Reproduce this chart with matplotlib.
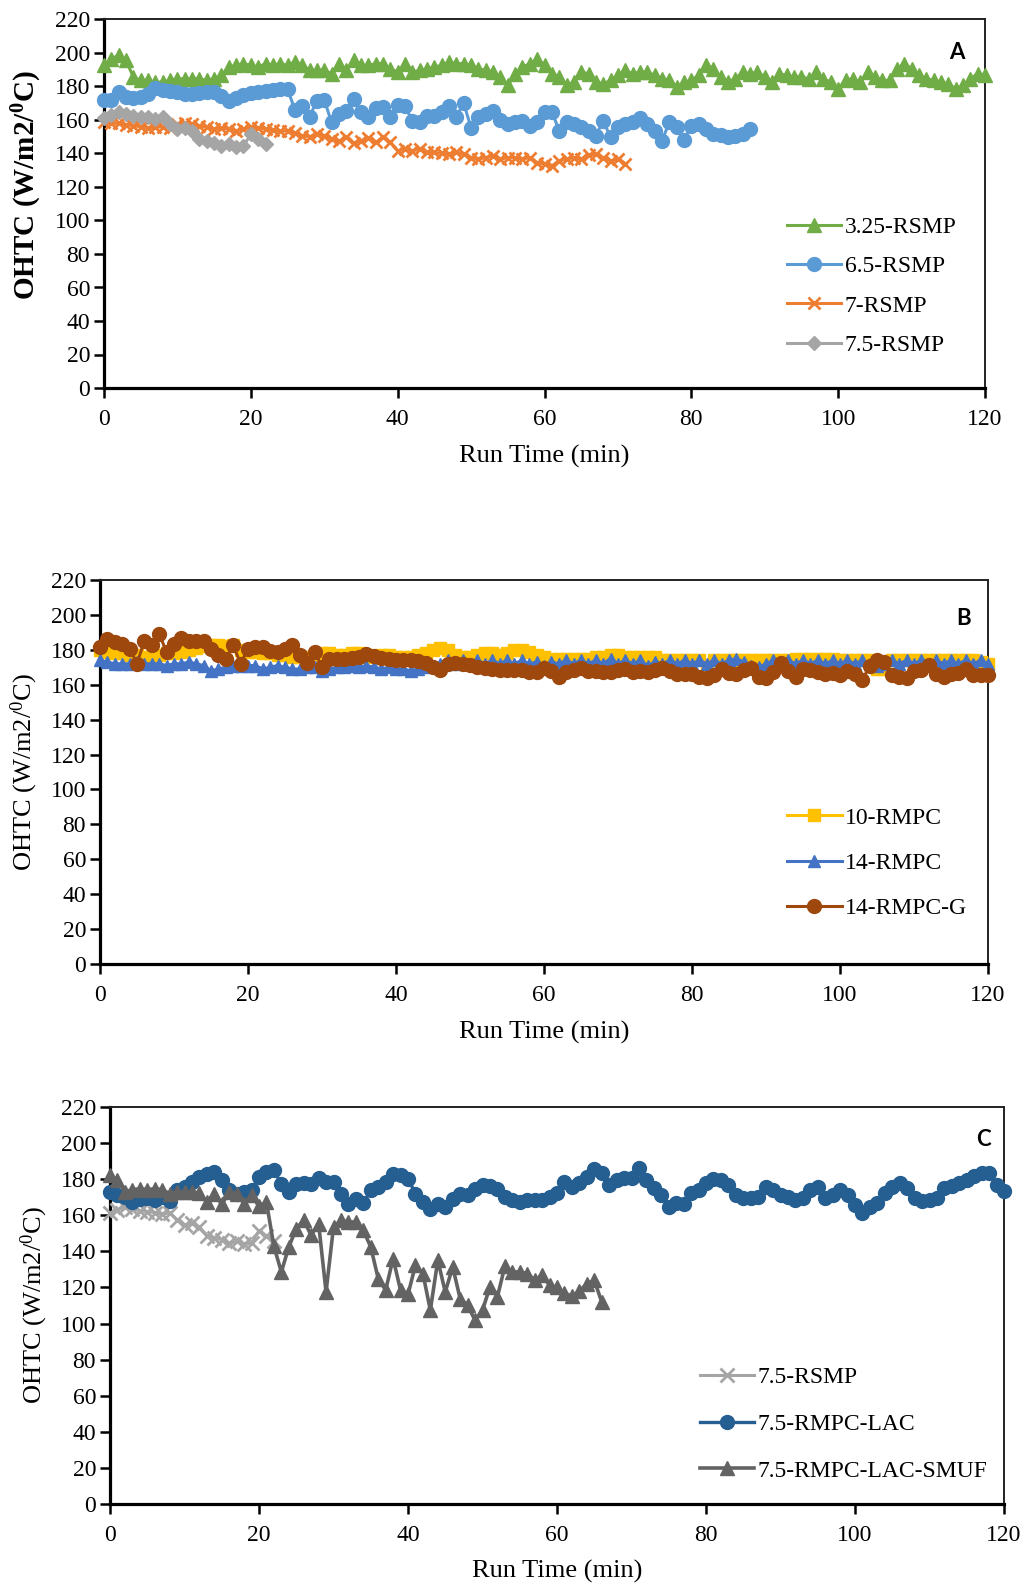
import matplotlib
matplotlib.use('Agg')
import matplotlib.pyplot as plt

plt.rcParams['font.family'] = ['Liberation Serif', 'DejaVu Serif']
plt.rcParams['mathtext.fontset'] = 'custom'
plt.rcParams['mathtext.rm'] = 'Liberation Serif'
plt.rcParams['mathtext.it'] = 'Liberation Serif:italic'
plt.rcParams['mathtext.bf'] = 'Liberation Serif:bold'

# ---------------- data ----------------
x_ticks = [0, 20, 40, 60, 80, 100, 120]
y_ticks = [0, 20, 40, 60, 80, 100, 120, 140, 160, 180, 200, 220]
y_label = 'OHTC (W/m2/$^{\\mathrm{0}}$C)'
y_label_bold = 'OHTC (W/m2/$^{\\mathbf{0}}$C)'
x_label = 'Run Time (min)'

# Panel A
a_labels = ['3.25-RSMP', '6.5-RSMP', '7-RSMP', '7.5-RSMP']
a_325_rsmp = [192.6, 196.6, 198.6, 195.6, 185.6, 183.6, 183.6, 182.6, 182.6, 183.6,
              184.6, 184.6, 184.6, 184.6, 183.6, 184.6, 186.6, 191.6, 192.6, 193.6,
              192.6, 191.6, 193.6, 192.6, 193.6, 192.6, 194.6, 192.6, 189.6, 189.6,
              189.6, 187.6, 193.6, 189.6, 195.6, 192.6, 192.6, 193.6, 193.6, 190.6,
              188.6, 193.6, 188.6, 189.6, 190.6, 191.6, 192.6, 194.6, 193.6, 193.6,
              192.6, 190.6, 189.6, 188.6, 185.6, 180.6, 187.6, 191.6, 193.6, 196.6,
              192.6, 187.6, 185.6, 180.6, 182.6, 188.6, 187.6, 182.6, 181.6, 183.6,
              186.6, 189.6, 187.6, 188.6, 188.6, 186.6, 184.6, 183.6, 179.6, 182.6,
              183.6, 186.6, 192.6, 190.6, 185.6, 182.6, 184.6, 188.6, 187.6, 188.6,
              185.6, 182.6, 187.6, 186.6, 185.6, 185.6, 184.6, 188.6, 184.6, 182.6,
              178.6, 183.6, 184.6, 182.6, 188.6, 185.6, 183.6, 183.6, 190.6, 193.6,
              190.6, 186.6, 184.6, 183.6, 182.6, 181.6, 178.6, 180.6, 184.6, 187.6,
              186.6]
a_65_rsmp = [172.0, 172.0, 177.0, 173.6, 173.2, 174.0, 175.6, 179.2, 178.0, 177.2,
             176.6, 175.6, 175.6, 176.0, 176.6, 176.6, 174.6, 171.6, 173.2, 175.2,
             176.0, 176.6, 177.2, 178.0, 178.6, 178.6, 166.0, 168.6, 162.0, 171.6,
             172.0, 158.6, 163.6, 165.2, 172.6, 164.6, 162.0, 167.2, 167.6, 162.0,
             169.2, 168.6, 159.2, 158.6, 162.6, 162.6, 164.6, 168.6, 162.0, 170.0,
             155.2, 162.0, 163.6, 165.6, 160.0, 157.6, 158.6, 159.6, 156.6, 158.6,
             164.6, 165.0, 153.6, 158.6, 157.6, 155.6, 153.6, 150.6, 159.6, 149.6,
             155.6, 157.6, 158.6, 161.2, 157.6, 153.6, 147.6, 158.6, 155.6, 148.0,
             156.6, 157.6, 154.6, 151.6, 151.2, 150.0, 150.6, 151.6, 154.6]
a_7_rsmp = [158.6, 158.0, 158.0, 157.2, 156.6, 156.0, 155.2, 155.6, 156.0, 155.2,
            157.6, 158.0, 157.6, 156.6, 155.6, 154.6, 155.2, 154.6, 153.6, 154.6,
            155.6, 155.2, 154.6, 154.0, 153.2, 153.6, 152.0, 150.6, 150.0, 151.6,
            150.6, 148.6, 147.2, 149.6, 146.0, 147.6, 149.2, 146.6, 149.6, 146.6,
            141.6, 142.6, 141.6, 142.6, 140.6, 140.6, 140.0, 139.6, 140.6, 139.6,
            137.6, 136.6, 137.6, 138.6, 136.6, 137.6, 137.6, 136.6, 137.6, 134.6,
            133.6, 132.6, 135.6, 136.6, 137.6, 136.6, 139.2, 139.6, 137.6, 135.6,
            136.6, 134.0]
a_75_rsmp = [161.0, 163.0, 164.5, 163.5, 162.5, 162.0, 161.5, 160.5, 161.5, 157.5,
             154.5, 155.5, 153.5, 148.5, 147.5, 146.5, 144.5, 145.5, 144.0, 144.5,
             151.5, 148.5, 145.5]

# Panel B
b_labels = ['10-RMPC', '14-RMPC', '14-RMPC-G']
b_10_rmpc = [180, 179, 178, 178, 177, 177, 176, 176, 177, 178,
             178, 179, 180, 181, 182, 183, 183, 182, 183, 180,
             179, 179, 178, 178, 177, 177, 176, 176, 176, 177,
             178, 178, 177, 177, 178, 178, 177, 176, 177, 177,
             176, 176, 176, 177, 178, 180, 181, 180, 177, 176,
             176, 177, 178, 178, 177, 178, 180, 180, 179, 177,
             176, 175, 175, 175, 175, 175, 175, 176, 176, 177,
             177, 176, 176, 176, 176, 176, 174, 174, 174, 174,
             174, 174, 171, 174, 174, 174, 174, 174, 174, 174,
             174, 174, 174, 174, 175, 175, 175, 175, 175, 175,
             174, 174, 174, 174, 174, 169, 169, 174, 174, 174,
             174, 174, 174, 174, 174, 174, 174, 174, 174, 173,
             172]
b_14_rmpc = [174, 173, 172, 172, 172, 173, 172, 172, 172, 171,
             172, 172, 173, 172, 171, 168, 169, 170, 171, 171,
             171, 171, 169, 170, 171, 170, 169, 169, 170, 170,
             168, 169, 170, 170, 171, 170, 171, 170, 169, 170,
             169, 169, 168, 169, 170, 171, 172, 174, 172, 174,
             172, 174, 172, 174, 172, 174, 172, 174, 172, 173,
             171, 173, 172, 174, 172, 174, 172, 174, 172, 175,
             172, 174, 172, 174, 171, 173, 172, 174, 172, 174,
             172, 174, 172, 174, 172, 174, 175, 173, 171, 170,
             172, 174, 172, 174, 172, 174, 172, 174, 172, 174,
             172, 174, 172, 174, 172, 171, 172, 174, 172, 174,
             172, 174, 172, 174, 172, 174, 172, 174, 172, 174,
             172]
b_14_rmpc_g = [181.5, 186.2, 184.3, 183.4, 180.6, 172.1, 185.3, 182.5, 189.1, 178.7,
               183.4, 186.8, 185.3, 184.9, 185.3, 180.6, 176.8, 174.9, 182.5, 172.1,
               180.6, 181.5, 181.9, 179.6, 178.7, 180.6, 182.5, 176.8, 172.5, 178.7,
               170.2, 174.9, 174.9, 174.9, 175.5, 175.8, 177.4, 176.2, 175.5, 174.9,
               174.3, 174.0, 174.0, 173.6, 172.5, 170.2, 168.7, 172.1, 172.5, 171.7,
               171.1, 170.2, 169.8, 169.2, 168.7, 168.3, 168.3, 168.3, 167.4, 167.4,
               169.8, 167.9, 164.2, 167.4, 168.3, 169.8, 167.9, 167.9, 167.4, 167.4,
               168.3, 169.2, 167.4, 167.9, 167.4, 168.3, 169.8, 167.9, 166.4, 166.0,
               166.0, 164.2, 163.6, 165.5, 169.2, 166.8, 166.0, 168.3, 169.8, 164.5,
               163.6, 167.4, 172.5, 167.9, 164.5, 169.2, 168.3, 167.4, 166.4, 166.8,
               165.5, 167.9, 166.0, 162.6, 170.6, 174.0, 173.0, 165.5, 164.5, 163.6,
               167.9, 168.7, 171.1, 166.4, 164.5, 166.0, 166.8, 169.2, 165.5, 165.5,
               165.5]

# Panel C
c_labels = ['7.5-RSMP', '7.5-RMPC-LAC', '7.5-RMPC-LAC-SMUF']
c_75_rmpc_lac = [172.9, 171.0, 170.1, 167.3, 169.2, 169.7, 168.6, 170.1, 167.9, 173.8,
                 175.6, 178.4, 181.2, 183.0, 183.9, 179.3, 173.8, 172.0, 172.9, 173.8,
                 181.2, 183.9, 184.9, 177.5, 172.9, 177.5, 177.9, 177.5, 180.8, 178.4,
                 178.4, 172.0, 166.0, 169.2, 166.8, 173.8, 175.6, 178.4, 183.0, 182.1,
                 180.3, 172.0, 167.3, 163.7, 166.4, 164.6, 169.2, 172.0, 171.0, 174.7,
                 176.6, 176.0, 174.7, 170.1, 168.3, 167.3, 168.6, 168.5, 168.5, 170.3,
                 172.2, 178.6, 175.9, 177.7, 181.4, 185.5, 183.6, 176.8, 179.6, 180.5,
                 180.5, 186.0, 179.6, 175.0, 171.3, 164.8, 166.6, 166.3, 172.2, 174.0,
                 177.7, 180.0, 179.6, 176.8, 171.3, 169.4, 169.4, 170.3, 175.9, 174.0,
                 171.3, 170.3, 168.5, 169.4, 174.0, 175.9, 169.4, 171.3, 174.0, 171.3,
                 165.7, 161.5, 164.8, 166.6, 172.2, 175.9, 177.7, 175.0, 169.4, 168.1,
                 168.5, 169.4, 175.0, 176.3, 177.7, 179.6, 181.8, 183.3, 183.6, 176.8,
                 173.7]
c_75_rmpc_lac_smuf = [182.1, 179.7, 172.9, 174.2, 174.7, 174.2, 174.7, 174.2, 172.0, 172.9,
                      172.9, 172.9, 172.3, 167.3, 172.0, 166.0, 172.9, 172.0, 166.4, 171.1,
                      164.9, 167.3, 142.8, 128.6, 142.4, 152.6, 157.2, 148.9, 155.4, 117.5,
                      153.5, 157.2, 156.3, 156.3, 151.7, 142.4, 124.9, 118.5, 136.0, 118.5,
                      116.2, 132.3, 127.7, 107.4, 135.1, 117.5, 131.4, 113.8, 110.1, 101.8,
                      107.4, 120.3, 114.8, 131.7, 128.6, 128.6, 127.7, 124.0, 126.8, 121.2,
                      120.0, 117.0, 115.0, 118.0, 122.0, 124.0, 112.0]

W, H = 1026, 1584
fig = plt.figure(figsize=(W / 100, H / 100), dpi=100)


def axes_px(left, top, right, bottom):
    return fig.add_axes([left / W, 1 - bottom / H, (right - left) / W, (bottom - top) / H])


def style(ax, ylab_x_px, xlab_dy_px, ylab_fs=19, ylab_y=0.5, ylab_bold=False):
    ax.set_xlim(0, 120)
    ax.set_ylim(0, 220)
    ax.set_xticks(x_ticks)
    ax.set_yticks(y_ticks)
    for s in ['left', 'bottom']:
        ax.spines[s].set_linewidth(2.3)
        ax.spines[s].set_color('black')
    for s in ['top', 'right']:
        ax.spines[s].set_linewidth(1.4)
        ax.spines[s].set_color('#222222')
    ax.tick_params(axis='both', direction='out', length=7, width=1.8, labelsize=17, color='black')
    ax.tick_params(axis='x', pad=8)
    ax.tick_params(axis='y', pad=3)
    bb = ax.get_position()
    wpx, hpx = bb.width * W, bb.height * H
    ax.set_xlabel(x_label, fontsize=19)
    ax.xaxis.label.set_va('center')
    ax.xaxis.set_label_coords(0.5, -xlab_dy_px / hpx)
    if ylab_bold:
        ax.set_ylabel(y_label_bold, fontsize=ylab_fs, fontweight='bold')
    else:
        ax.set_ylabel(y_label, fontsize=ylab_fs)
    ax.yaxis.label.set_va('center')
    ax.yaxis.set_label_coords(ylab_x_px / wpx, ylab_y)


def plot(ax, values, **kw):
    t = list(range(len(values)))
    return ax.plot(t, values, clip_on=False, zorder=3, **kw)[0]


# ---------------- Panel A ----------------
axA = axes_px(104, 19.5, 985, 388)
hA = [
    plot(axA, a_325_rsmp, color='#70AD47', lw=2.2, marker='^', ms=10.5, mec='#70AD47'),
    plot(axA, a_65_rsmp, color='#5B9BD5', lw=2.2, marker='o', ms=10, mec='#5B9BD5'),
    plot(axA, a_7_rsmp, color='#ED7D31', lw=2.2, marker='x', ms=9, mew=2),
    plot(axA, a_75_rsmp, color='#A5A5A5', lw=2.2, marker='D', ms=7.5, mec='#A5A5A5'),
]
style(axA, -77, 68, ylab_fs=21, ylab_y=0.551, ylab_bold=True)
axA.legend(hA, a_labels, loc='center left', bbox_to_anchor=(0.775, 0.276), frameon=False,
           fontsize=17, handlelength=2.3, handletextpad=0.15, labelspacing=0.75,
           borderpad=0, borderaxespad=0)
axA.text(0.968, 0.910, 'A', transform=axA.transAxes, ha='center', va='center',
         fontsize=16, fontweight='bold', family='Lato')

# ---------------- Panel B ----------------
axB = axes_px(100, 580, 988, 964)
hB = [
    plot(axB, b_10_rmpc, color='#FFC000', lw=2.2, marker='s', ms=9, mec='#FFC000'),
    plot(axB, b_14_rmpc, color='#4472C4', lw=2.2, marker='^', ms=9, mec='#4472C4'),
    plot(axB, b_14_rmpc_g, color='#9E480E', lw=2.2, marker='o', ms=10, mec='#9E480E'),
]
style(axB, -76, 68)
axB.legend(hB, b_labels, loc='center left', bbox_to_anchor=(0.774, 0.263), frameon=False,
           fontsize=17, handlelength=2.3, handletextpad=0.15, labelspacing=1.0,
           borderpad=0, borderaxespad=0)
axB.text(0.973, 0.901, 'B', transform=axB.transAxes, ha='center', va='center',
         fontsize=16, fontweight='bold', family='Lato')

# ---------------- Panel C ----------------
axC = axes_px(110, 1107, 1004, 1504)
hC = [
    plot(axC, a_75_rsmp, color='#A5A5A5', lw=2.2, marker='x', ms=10, mew=2),
    plot(axC, c_75_rmpc_lac, color='#255E91', lw=2.4, marker='o', ms=10, mec='#255E91'),
    plot(axC, c_75_rmpc_lac_smuf, color='#636363', lw=2.6, marker='^', ms=10, mec='#636363'),
]
style(axC, -76, 67)
axC.legend(hC, c_labels, loc='center left', bbox_to_anchor=(0.66, 0.201), frameon=False,
           fontsize=17, handlelength=2.3, handletextpad=0.15, labelspacing=1.07,
           borderpad=0, borderaxespad=0)
axC.text(0.977, 0.919, 'C', transform=axC.transAxes, ha='center', va='center',
         fontsize=16, fontweight='bold', family='Lato')

fig.savefig('out.png', dpi=100, facecolor='white')
